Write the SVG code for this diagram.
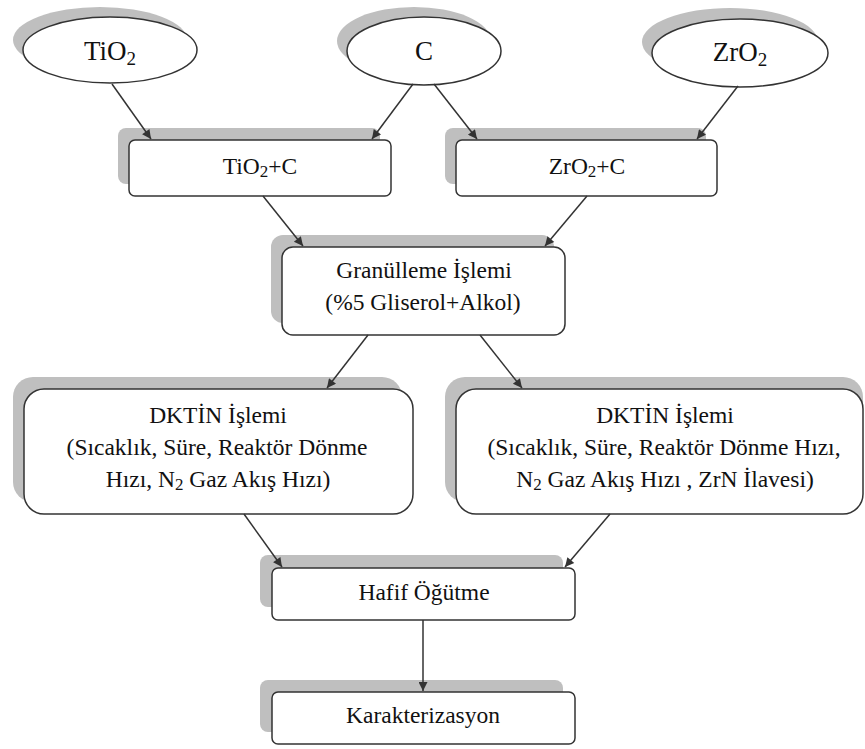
<svg xmlns="http://www.w3.org/2000/svg" width="865" height="749" viewBox="0 0 865 749">
<defs>
<marker id="ah" viewBox="0 0 10 10" refX="10" refY="5" markerWidth="12" markerHeight="9" markerUnits="userSpaceOnUse" orient="auto">
<path d="M0,0 L10,5 L0,10 Z" fill="#333"/>
</marker>
</defs>
<style>
.sh{fill:#bfbfbf;stroke:none}
.nd{fill:#fff;stroke:#333;stroke-width:1.5}
text{font-family:'Liberation Serif','DejaVu Serif',serif;fill:#111;text-anchor:middle}
.t{font-size:23.5px}
.te{font-size:27px}
.sub{font-size:17px}
.sube{font-size:19px}
.c{stroke:#333;stroke-width:1.5;fill:none;marker-end:url(#ah)}
</style>
<rect width="865" height="749" fill="#fff"/>
<g id="n-tio2">
<ellipse class="sh" cx="100" cy="40" rx="87" ry="33"/>
<ellipse class="nd" cx="110" cy="50" rx="87" ry="33"/>
<text class="te" x="110" y="60">TiO<tspan class="sube" dy="5">2</tspan></text>
</g>
<g id="n-c">
<ellipse class="sh" cx="414" cy="41" rx="77" ry="34"/>
<ellipse class="nd" cx="424" cy="51" rx="77" ry="34"/>
<text class="te" x="424" y="60">C</text>
</g>
<g id="n-zro2">
<ellipse class="sh" cx="730" cy="42" rx="88" ry="34"/>
<ellipse class="nd" cx="740" cy="53" rx="88" ry="34"/>
<text class="te" x="740" y="61">ZrO<tspan class="sube" dy="5">2</tspan></text>
</g>
<g id="n-tio2c">
<rect class="sh" x="118" y="128" width="262" height="56" rx="8"/>
<rect class="nd" x="129" y="140" width="262" height="56" rx="6"/>
<text class="t" x="260" y="174">TiO<tspan class="sub" dy="3">2</tspan><tspan dy="-3">+C</tspan></text>
</g>
<g id="n-zro2c">
<rect class="sh" x="445" y="128" width="261" height="56" rx="8"/>
<rect class="nd" x="456" y="140" width="261" height="56" rx="6"/>
<text class="t" x="587" y="174">ZrO<tspan class="sub" dy="3">2</tspan><tspan dy="-3">+C</tspan></text>
</g>
<g id="n-gran">
<rect class="sh" x="271" y="235" width="283" height="88" rx="12"/>
<rect class="nd" x="282" y="247" width="283" height="88" rx="11"/>
<text class="t" x="424" y="278">Granülleme İşlemi</text>
<text class="t" x="423" y="310">(%5 Gliserol+Alkol)</text>
</g>
<g id="n-dktin1">
<rect class="sh" x="13" y="377" width="389" height="125" rx="20"/>
<rect class="nd" x="24" y="389" width="389" height="125" rx="20"/>
<text class="t" x="218" y="423">DKTİN İşlemi</text>
<text class="t" x="217" y="455">(Sıcaklık,  Süre, Reaktör Dönme</text>
<text class="t" x="218" y="487">Hızı, N<tspan class="sub" dy="3">2</tspan><tspan dy="-3"> Gaz Akış Hızı)</tspan></text>
</g>
<g id="n-dktin2">
<rect class="sh" x="445" y="377" width="418" height="125" rx="20"/>
<rect class="nd" x="456" y="389" width="407" height="125" rx="20"/>
<text class="t" x="665" y="423">DKTİN İşlemi</text>
<text class="t" x="664" y="455">(Sıcaklık, Süre, Reaktör Dönme Hızı,</text>
<text class="t" x="665" y="487">N<tspan class="sub" dy="3">2</tspan><tspan dy="-3"> Gaz Akış Hızı , ZrN İlavesi)</tspan></text>
</g>
<g id="n-hafif">
<rect class="sh" x="260" y="555" width="303" height="52" rx="8"/>
<rect class="nd" x="272" y="568" width="303" height="52" rx="6"/>
<text class="t" x="424" y="600">Hafif Öğütme</text>
</g>
<g id="n-karak">
<rect class="sh" x="260" y="680" width="303" height="52" rx="8"/>
<rect class="nd" x="272" y="692" width="303" height="52" rx="6"/>
<text class="t" x="423" y="723">Karakterizasyon</text>
</g>
<g id="connectors">
<line class="c" x1="112" y1="84" x2="151" y2="139"/>
<line class="c" x1="413" y1="84" x2="372" y2="139"/>
<line class="c" x1="434" y1="84" x2="477" y2="139"/>
<line class="c" x1="738" y1="86" x2="697" y2="139"/>
<line class="c" x1="263" y1="196" x2="303" y2="246"/>
<line class="c" x1="587" y1="196" x2="545" y2="246"/>
<line class="c" x1="368" y1="335" x2="327" y2="388"/>
<line class="c" x1="480" y1="335" x2="522" y2="388"/>
<line class="c" x1="244" y1="514" x2="282" y2="567"/>
<line class="c" x1="610" y1="514" x2="565" y2="567"/>
<line class="c" x1="423" y1="620" x2="423" y2="691"/>
</g>
</svg>
